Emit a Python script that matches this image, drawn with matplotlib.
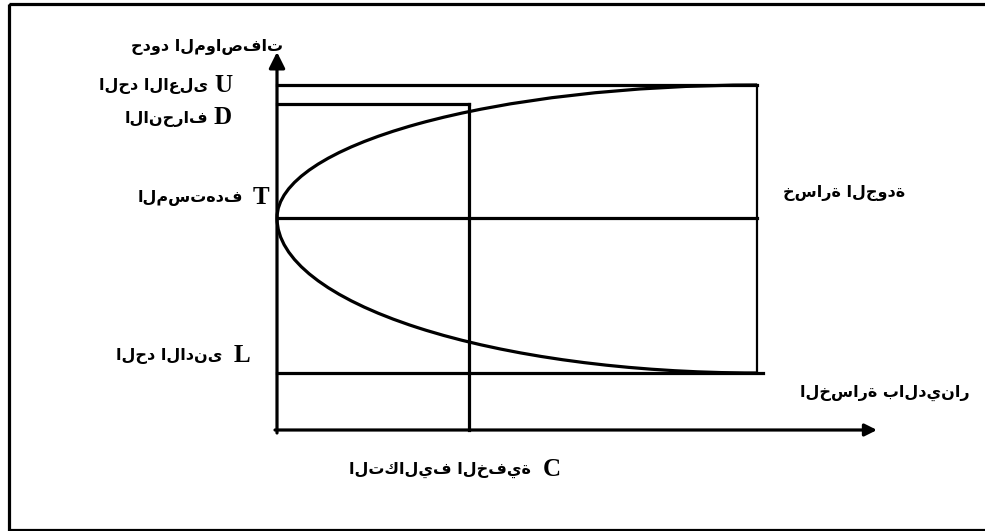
import matplotlib
matplotlib.use("Agg")
import matplotlib.pyplot as plt
from matplotlib.patches import Arc, Rectangle

# ---- data (diagram coordinates: x = loss in dinars, y = specification scale) ----
spec_letters = ["U", "D", "T", "L"]
spec_names = ["الحد الاعلى", "الانحراف", "المستهدف", "الحد الادنى"]
spec_levels = [85, 104, 218, 373]          # U, D, T, L
origin = [277, 430]                         # where the two axes meet
axis_ends = [877, 52]                       # x-axis tip, y-axis tip
hidden_cost_x = 469                         # C
quality_loss_x = 757                        # right end of loss curve
lower_line_end = 763

y_title = "حدود المواصفات"
x_title = "الخسارة بالدينار"
curve_title = "خسارة الجودة"
c_letter = "C"
c_name = "التكاليف الخفية"

fig = plt.figure(figsize=(9.85, 5.31), dpi=100)
ax = fig.add_axes([0, 0, 1, 1])
ax.set_xlim(0, 985)
ax.set_ylim(531, 0)
ax.axis("off")

K = "black"
LW = 2.3

# outer frame (right side runs off the picture)
ax.add_patch(Rectangle((8.5, 4), 990, 525.5, fill=False, lw=2.3, ec=K))

x0, y0 = origin
U, D, T, L = spec_levels

# axes with arrows
ax.annotate("", xy=(x0, axis_ends[1]), xytext=(x0, y0 + 3),
            arrowprops=dict(arrowstyle="-|>", lw=LW, color=K, mutation_scale=24,
                            shrinkA=0, shrinkB=0))
ax.annotate("", xy=(axis_ends[0], y0), xytext=(x0 - 2, y0),
            arrowprops=dict(arrowstyle="-|>", lw=LW, color=K, mutation_scale=18,
                            shrinkA=0, shrinkB=0))

# horizontal spec lines
ax.plot([x0, quality_loss_x], [U, U], color=K, lw=LW)
ax.plot([x0, hidden_cost_x], [D, D], color=K, lw=LW)
ax.plot([x0, quality_loss_x], [T, T], color=K, lw=LW)
ax.plot([x0, lower_line_end], [L, L], color=K, lw=LW)
# verticals
ax.plot([hidden_cost_x, hidden_cost_x], [D, y0], color=K, lw=LW)
ax.plot([quality_loss_x, quality_loss_x], [U, L], color=K, lw=1.6)

# loss curve (two quarter ellipses meeting at target)
w = 2 * (quality_loss_x - x0)
ax.add_patch(Arc((quality_loss_x, T), w, 2 * (T - U), theta1=180, theta2=270,
                 lw=LW, color=K))
ax.add_patch(Arc((quality_loss_x, T), w, 2 * (L - T), theta1=90, theta2=180,
                 lw=LW, color=K))

AR = dict(family="DejaVu Sans", weight="bold", fontsize=11.5, color=K)
LT = dict(family="Liberation Serif", weight="bold", fontsize=18, color=K)

ax.text(283, 47, y_title, ha="right", va="center", **AR)

letter_x = [223, 223, 261, 242]
letter_y = [85, 118, 197, 355]
name_x = [208, 208, 243, 222]
for lx, ly, nx, let, nm in zip(letter_x, letter_y, name_x, spec_letters, spec_names):
    ax.text(lx, ly, let, ha="center", va="center", **LT)
    ax.text(nx, ly + 1, nm, ha="right", va="center", **AR)

ax.text(552, 469, c_letter, ha="center", va="center", **LT)
ax.text(531, 470, c_name, ha="right", va="center", **AR)

ax.text(905, 193, curve_title, ha="right", va="center", **AR)
ax.text(970, 393, x_title, ha="right", va="center", **AR)

fig.savefig("out.png", dpi=100)
